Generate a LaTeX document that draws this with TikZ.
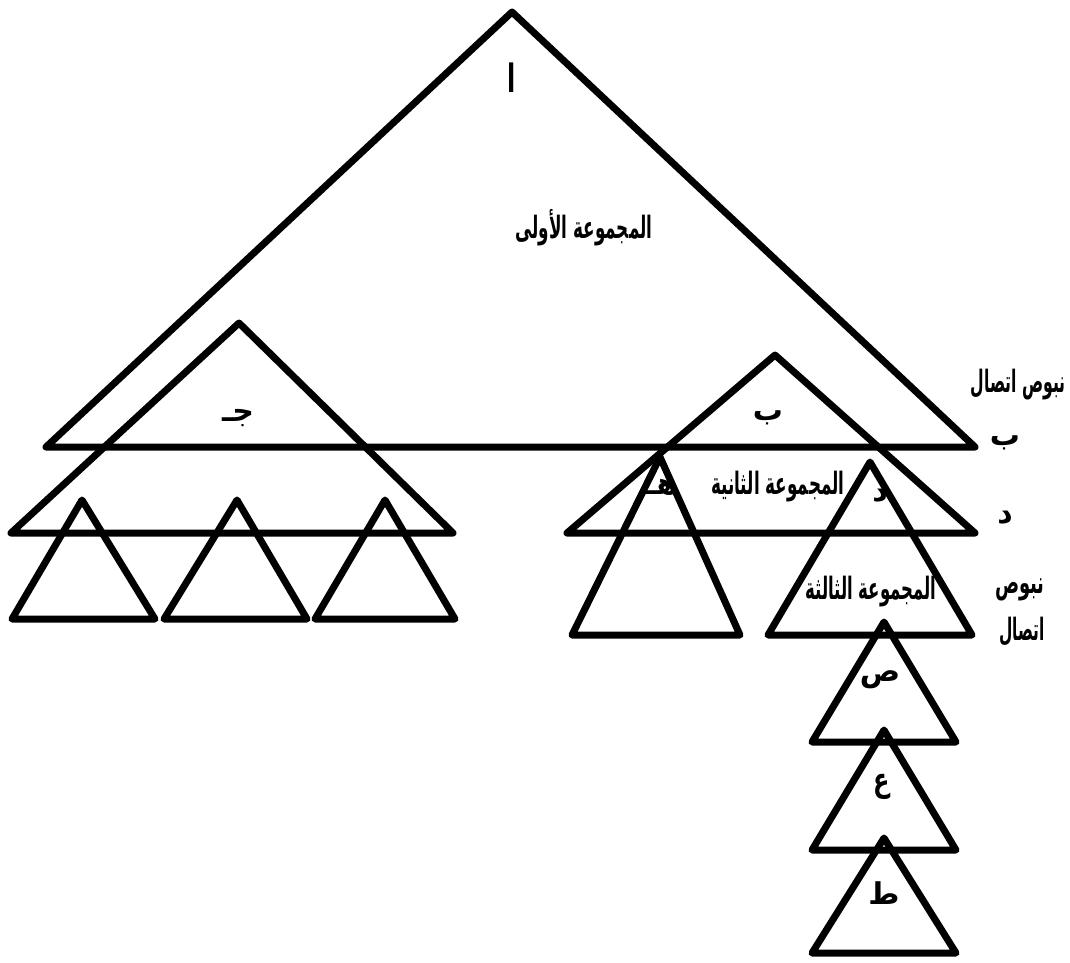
\documentclass[tikz,border=0pt]{standalone}
\usepackage{fontspec}
\newfontfamily\arabicfont[Script=Arabic]{DejaVu Sans}
\TeXXeTstate=1
\newcommand{\ar}[1]{\arabicfont\bfseries\beginR #1\endR}
\begin{document}
\begin{tikzpicture}[x=1pt,y=-1pt,
  tri/.style={line width=7pt,line join=round,line cap=round},
  lbl/.style={inner sep=0pt,font=\fontsize{28}{30}\selectfont},
  lab/.style={inner sep=0pt,font=\fontsize{30}{32}\selectfont}]
\useasboundingbox (0,0) rectangle (1070,962);
% big triangle A
\coordinate (Aa) at (512,12); \coordinate (Al) at (46,447); \coordinate (Ar) at (975,447);
\draw[tri] (Aa) -- (Al) -- (Ar) -- cycle;
% jim
\coordinate (Ja) at (239,323); \coordinate (Jl) at (11,533); \coordinate (Jr) at (453,533);
\draw[tri] (Ja) -- (Jl) -- (Jr) -- cycle;
% ba
\coordinate (Ba) at (775,355); \coordinate (Bl) at (567,533); \coordinate (Br) at (975,533);
\draw[tri] (Ba) -- (Bl) -- (Br) -- cycle;
% small left triangles
\coordinate (L1a) at (82,500); \coordinate (L1l) at (12,619); \coordinate (L1r) at (155,619);
\coordinate (L2a) at (237,500); \coordinate (L2l) at (164,619); \coordinate (L2r) at (307,619);
\coordinate (L3a) at (385,500); \coordinate (L3l) at (315,619); \coordinate (L3r) at (455,619);
\draw[tri] (L1a) -- (L1l) -- (L1r) -- cycle;
\draw[tri] (L2a) -- (L2l) -- (L2r) -- cycle;
\draw[tri] (L3a) -- (L3l) -- (L3r) -- cycle;
% ha
\coordinate (Ha) at (660,457); \coordinate (Hl) at (572,635); \coordinate (Hr) at (740,635);
\draw[tri] (Ha) -- (Hl) -- (Hr) -- cycle;
% dal
\coordinate (Da) at (870,462); \coordinate (Dl) at (768,635); \coordinate (Dr) at (972,635);
\draw[tri] (Da) -- (Dl) -- (Dr) -- cycle;
% chain
\coordinate (Sa) at (884,622); \coordinate (Sl) at (812,742); \coordinate (Sr) at (956,742);
\coordinate (Ea) at (884,730); \coordinate (El) at (812,850); \coordinate (Er) at (956,850);
\coordinate (Ta) at (884,838); \coordinate (Tl) at (812,953); \coordinate (Tr) at (956,953);
\draw[tri] (Sa) -- (Sl) -- (Sr) -- cycle;
\draw[tri] (Ea) -- (El) -- (Er) -- cycle;
\draw[tri] (Ta) -- (Tl) -- (Tr) -- cycle;
% labels
\node[lab] (alif) at (512,78) {\scalebox{0.8}[1.3]{\ar{ا}}};
\node[lbl] (g1) at (584,228) {\scalebox{0.6}[1.1]{\ar{المجموعة الأولى}}};
\node[lab] (jim) at (238,418) {\ar{جـ}};
\node[lab] (ba) at (768,418) {\ar{ب}};
\node[lbl] (bus1) at (1018,385) {\scalebox{0.56}[1.1]{\ar{نبوص اتصال}}};
\node[lab] (ba2) at (1005,443) {\ar{ب}};
\node[lab] (dal2) at (1005,518) {\ar{د}};
\node[lbl] (g2) at (778,487) {\scalebox{0.6}[1.1]{\ar{المجموعة الثانية}}};
\node[lab] (ha) at (662,487) {\ar{هـ}};
\node[lab] (dal) at (880,496) {\ar{د}};
\node[lbl] (g3) at (871,592) {\scalebox{0.59}[1.1]{\ar{المجموعة الثالثة}}};
\node[lbl] (bus2a) at (1020,590) {\scalebox{0.64}[1.1]{\ar{نبوص}}};
\node[lbl] (bus2b) at (1022,632) {\scalebox{0.55}[1.1]{\ar{اتصال}}};
\node[lab] (sad) at (880,680) {\ar{ص}};
\node[lab] (ain) at (882,787) {\scalebox{0.8}[1.1]{\ar{ع}}};
\node[lab] (ta) at (884,893) {\ar{ط}};
\end{tikzpicture}
\end{document}
